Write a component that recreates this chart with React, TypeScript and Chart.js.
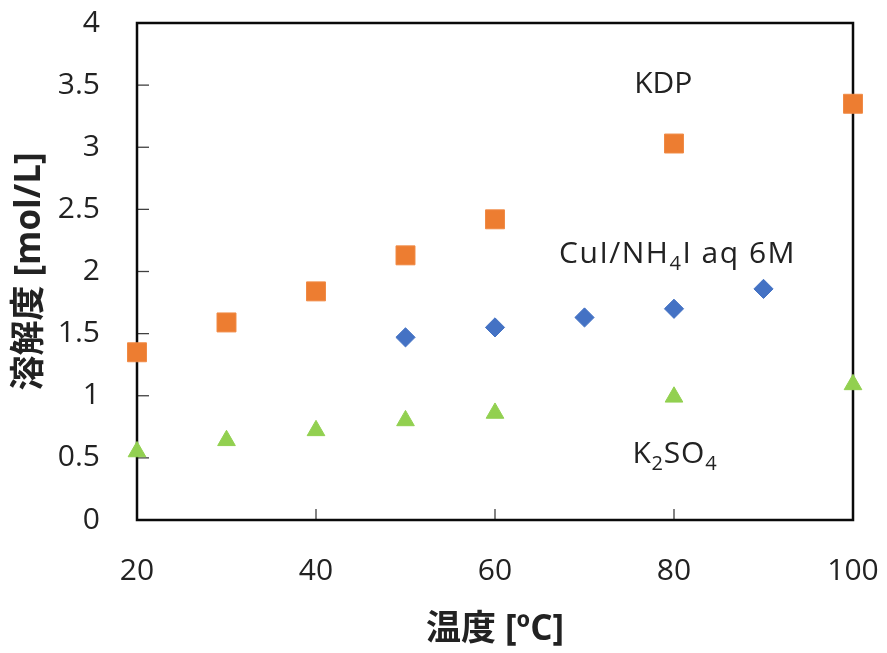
import React, { useEffect, useRef } from 'react';
import { Chart, registerables } from 'chart.js';

Chart.register(...registerables);

// ---- data ----
const temps = [20, 30, 40, 50, 60, 80, 100];
const kdpValues = [1.35, 1.59, 1.84, 2.13, 2.42, 3.03, 3.35];
const cuiTemps = [50, 60, 70, 80, 90];
const cuiValues = [1.47, 1.55, 1.63, 1.70, 1.86];
const k2so4Values = [0.55, 0.64, 0.72, 0.80, 0.86, 0.99, 1.09];
const xTickValues = [20, 40, 60, 80, 100];
const yTickValues = [0, 0.5, 1, 1.5, 2, 2.5, 3, 3.5, 4];
const xTitle = '温度 [ºC]';
const yTitle = '溶解度 [mol/L]';

// series labels: [text, isSubscript] parts, anchored at data coordinates
const seriesLabels: { parts: [string, boolean][]; x: number; y: number; spacing: number }[] = [
  { parts: [['KDP', false]], x: 78.8, y: 3.52, spacing: 0 },
  { parts: [['CuI/NH', false], ['4', true], ['I aq 6M', false]], x: 80.4, y: 2.157, spacing: 1.5 },
  { parts: [['K', false], ['2', true], ['SO', false], ['4', true]], x: 80.1, y: 0.542, spacing: 0.8 },
];

const FONT = "'Open Sans', 'Noto Sans CJK JP', sans-serif";
const TEXT_COLOR = '#222222';

const framePlugin = {
  id: 'frame',
  beforeDatasetsDraw(chart: any) {
    const { ctx, chartArea, scales } = chart;
    const { left, top, right, bottom } = chartArea;
    const x = scales.x;
    const y = scales.y;
    ctx.save();
    ctx.strokeStyle = '#404040';
    ctx.lineWidth = 1.3;
    yTickValues.forEach((v) => {
      const py = y.getPixelForValue(v);
      ctx.beginPath();
      ctx.moveTo(left, py);
      ctx.lineTo(left + 12, py);
      ctx.stroke();
    });
    xTickValues.forEach((v) => {
      const px = x.getPixelForValue(v);
      ctx.beginPath();
      ctx.moveTo(px, bottom);
      ctx.lineTo(px, bottom - 11);
      ctx.stroke();
    });
    ctx.strokeStyle = '#0a0a0a';
    ctx.lineWidth = 2.5;
    ctx.strokeRect(left, top, right - left, bottom - top);
    ctx.restore();
  },
};

const labelPlugin = {
  id: 'seriesLabels',
  afterDatasetsDraw(chart: any) {
    const { ctx, scales } = chart;
    const mainSize = 30;
    const subSize = 20;
    ctx.save();
    ctx.fillStyle = TEXT_COLOR;
    ctx.textBaseline = 'alphabetic';
    ctx.textAlign = 'left';
    seriesLabels.forEach((lab) => {
      (ctx as any).letterSpacing = `${lab.spacing}px`;
      let total = 0;
      lab.parts.forEach(([t, sub]) => {
        ctx.font = `${sub ? subSize : mainSize}px ${FONT}`;
        total += ctx.measureText(t).width;
      });
      const cx = scales.x.getPixelForValue(lab.x);
      const cy = scales.y.getPixelForValue(lab.y);
      const baseline = cy + mainSize * 0.357;
      let px = cx - total / 2;
      lab.parts.forEach(([t, sub]) => {
        ctx.font = `${sub ? subSize : mainSize}px ${FONT}`;
        ctx.fillText(t, px, sub ? baseline + 7 : baseline);
        px += ctx.measureText(t).width;
      });
    });
    (ctx as any).letterSpacing = '0px';
    ctx.restore();
  },
};

export default function App() {
  const canvasRef = useRef<HTMLCanvasElement | null>(null);

  useEffect(() => {
    if (!canvasRef.current) return;
    const chart = new Chart(canvasRef.current, {
      type: 'scatter',
      data: {
        datasets: [
          {
            label: 'KDP',
            data: temps.map((t, i) => ({ x: t, y: kdpValues[i] })),
            pointStyle: 'rect',
            pointRadius: 13.4,
            backgroundColor: '#ED7D31',
            borderColor: '#F08A45',
            borderWidth: 1,
            clip: false as any,
          },
          {
            label: 'CuI/NH4I aq 6M',
            data: cuiTemps.map((t, i) => ({ x: t, y: cuiValues[i] })),
            pointStyle: 'rectRot',
            pointRadius: 9.6,
            backgroundColor: '#4472C4',
            borderColor: '#4472C4',
            borderWidth: 1,
            clip: false as any,
          },
          {
            label: 'K2SO4',
            data: temps.map((t, i) => ({ x: t, y: k2so4Values[i] })),
            pointStyle: 'triangle',
            pointRadius: 10.2,
            backgroundColor: '#92D050',
            borderColor: '#92D050',
            borderWidth: 1,
            clip: false as any,
          },
        ],
      },
      options: {
        responsive: false,
        animation: false,
        devicePixelRatio: 1,
        events: [],
        layout: { padding: { left: 0, top: 23, right: 34, bottom: 0 } },
        plugins: {
          legend: { display: false },
          tooltip: { enabled: false },
        },
        scales: {
          x: {
            type: 'linear',
            min: 20,
            max: 100,
            grid: { display: false, drawTicks: false },
            border: { display: false },
            afterBuildTicks: (s: any) => {
              s.ticks = xTickValues.map((v) => ({ value: v }));
            },
            afterFit: (s: any) => {
              s.height = 133;
              s.paddingLeft = 0;
              s.paddingRight = 0;
              s.paddingTop = 0;
              s.paddingBottom = 0;
            },
            ticks: {
              padding: 33,
              color: TEXT_COLOR,
              font: { family: FONT, size: 30 },
              maxRotation: 0,
              autoSkip: false,
              callback: (v: any) => String(v),
            },
            title: {
              display: true,
              text: xTitle,
              color: TEXT_COLOR,
              font: { family: FONT, size: 35, weight: 'bold' },
              padding: { top: 0, bottom: 2 },
            },
          },
          y: {
            type: 'linear',
            min: 0,
            max: 4,
            grid: { display: false, drawTicks: false },
            border: { display: false },
            afterBuildTicks: (s: any) => {
              s.ticks = yTickValues.map((v) => ({ value: v }));
            },
            afterFit: (s: any) => {
              s.width = 137;
              s.paddingLeft = 0;
              s.paddingRight = 0;
              s.paddingTop = 0;
              s.paddingBottom = 0;
            },
            ticks: {
              padding: 37,
              color: TEXT_COLOR,
              font: { family: FONT, size: 30 },
              autoSkip: false,
              callback: (v: any) => String(v),
            },
            title: {
              display: true,
              text: yTitle,
              color: TEXT_COLOR,
              font: { family: FONT, size: 35, weight: 'bold' },
              padding: { top: 9, bottom: 0 },
            },
          },
        },
      },
      plugins: [framePlugin, labelPlugin],
    });
    return () => chart.destroy();
  }, []);

  return (
    <div style={{ position: 'absolute', left: 0, top: 0, width: 887, height: 653, background: '#fff' }}>
      <canvas ref={canvasRef} width={887} height={653} />
    </div>
  );
}
